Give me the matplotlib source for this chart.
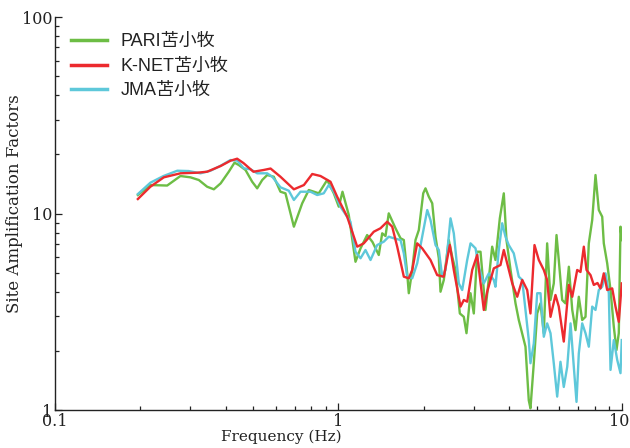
import matplotlib
matplotlib.use("Agg")
import matplotlib.pyplot as plt
import matplotlib.transforms as mtransforms
from matplotlib.ticker import LogLocator, NullFormatter, FixedLocator, FixedFormatter

# ---- data ----
pari_freq = [0.196, 0.217, 0.2487, 0.277, 0.3006, 0.3216, 0.344, 0.3633, 0.384, 0.4102,
             0.4297, 0.4450, 0.4699, 0.4961, 0.5166, 0.5382, 0.5604, 0.5912, 0.624, 0.650,
             0.696, 0.7447, 0.7855, 0.852, 0.912, 0.9625, 1.0024, 1.033, 1.087, 1.148,
             1.196, 1.262, 1.318, 1.387, 1.426, 1.465, 1.504, 1.589, 1.655, 1.700,
             1.747, 1.770, 1.820, 1.869, 1.920, 1.990, 2.027, 2.082, 2.141, 2.199,
             2.259, 2.290, 2.352, 2.449, 2.518, 2.586, 2.679, 2.767, 2.828, 2.922,
             3.001, 3.085, 3.169, 3.300, 3.484, 3.578, 3.707, 3.829, 3.913, 4.045,
             4.211, 4.325, 4.566, 4.690, 4.755, 4.885, 5.022, 5.158, 5.299, 5.445,
             5.595, 5.746, 5.875, 5.984, 6.152, 6.317, 6.494, 6.676, 6.855, 7.041,
             7.238, 7.435, 7.637, 7.851, 8.064, 8.283, 8.515, 8.626, 8.867, 9.110,
             9.357, 9.563, 9.743, 9.879, 9.98]
pari_amp = [12.42, 13.96, 13.88, 15.52, 15.28, 14.81, 13.69, 13.28, 14.24, 16.32,
            18.14, 17.65, 16.65, 14.51, 13.43, 14.81, 15.70, 15.39, 12.91, 12.67,
            8.57, 11.27, 13.17, 12.67, 14.81, 12.67, 10.83, 12.91, 9.83, 5.68,
            6.65, 7.77, 7.16, 6.15, 7.93, 7.68, 10.02, 8.41, 7.48, 7.33,
            4.96, 3.93, 5.16, 7.33, 8.24, 12.67, 13.43, 12.18, 11.27, 7.62,
            5.92, 4.00, 4.59, 7.33, 6.03, 5.16, 3.10, 2.98, 2.46, 3.93,
            3.10, 6.39, 6.39, 3.23, 6.78, 5.80, 9.45, 12.67, 7.33, 5.16,
            3.49, 2.87, 2.10, 1.12, 1.02, 1.73, 3.10, 3.49, 2.46, 7.05,
            3.63, 4.41, 7.77, 5.80, 3.63, 3.49, 5.36, 3.23, 2.55, 3.77,
            2.87, 2.98, 7.05, 9.27, 15.70, 10.42, 9.63, 7.05, 5.58, 4.08,
            2.65, 2.02, 2.46, 8.57, 7.33]

knet_freq = [0.196, 0.217, 0.242, 0.277, 0.317, 0.344, 0.384, 0.416, 0.439, 0.462,
             0.501, 0.544, 0.576, 0.624, 0.696, 0.755, 0.808, 0.864, 0.937, 0.989,
             1.073, 1.164, 1.228, 1.332, 1.406, 1.485, 1.547, 1.611, 1.700, 1.770,
             1.820, 1.895, 1.973, 2.111, 2.229, 2.352, 2.470, 2.551, 2.694, 2.767,
             2.844, 2.962, 3.085, 3.255, 3.346, 3.530, 3.727, 3.829, 4.101, 4.270,
             4.446, 4.630, 4.755, 4.913, 5.088, 5.299, 5.445, 5.595, 5.826, 5.984,
             6.232, 6.494, 6.676, 6.950, 7.139, 7.334, 7.496, 7.744, 7.953, 8.196,
             8.398, 8.626, 8.867, 9.235, 9.486, 9.743, 9.98]
knet_amp = [11.85, 13.69, 15.28, 16.02, 16.13, 16.32, 17.45, 18.57, 19.01, 18.07,
            16.32, 16.65, 16.94, 15.39, 13.28, 13.96, 15.89, 15.52, 14.51, 12.18,
            9.63, 6.78, 7.05, 8.08, 8.41, 9.08, 8.57, 6.78, 4.77, 4.68,
            5.16, 7.05, 6.65, 5.80, 4.86, 4.77, 6.91, 5.16, 3.36, 3.63,
            3.56, 5.16, 6.15, 3.23, 4.00, 5.26, 5.47, 6.52, 4.41, 3.77,
            4.59, 4.08, 3.10, 6.91, 5.80, 5.16, 4.59, 2.98, 3.85, 3.36,
            2.23, 4.33, 3.77, 5.16, 5.04, 6.78, 5.16, 4.86, 4.33, 4.43,
            4.16, 4.96, 4.08, 4.16, 3.36, 2.81, 4.41]

jma_freq = [0.196, 0.217, 0.2414, 0.270, 0.296, 0.326, 0.3535, 0.384, 0.416, 0.440,
            0.4634, 0.4894, 0.5166, 0.5604, 0.585, 0.624, 0.668, 0.696, 0.7345, 0.797,
            0.841, 0.887, 0.924, 0.9625, 1.016, 1.102, 1.148, 1.196, 1.245, 1.297,
            1.369, 1.445, 1.504, 1.567, 1.655, 1.700, 1.747, 1.820, 1.895, 1.973,
            2.056, 2.111, 2.199, 2.259, 2.322, 2.385, 2.484, 2.551, 2.657, 2.731,
            2.844, 2.922, 3.043, 3.126, 3.255, 3.390, 3.530, 3.578, 3.676, 3.779,
            3.882, 3.987, 4.152, 4.325, 4.446, 4.566, 4.690, 4.755, 4.885, 5.022,
            5.158, 5.299, 5.445, 5.595, 5.746, 5.907, 6.067, 6.232, 6.410, 6.584,
            6.761, 6.911, 7.041, 7.238, 7.435, 7.637, 7.851, 8.064, 8.283, 8.515,
            8.747, 8.985, 9.110, 9.357, 9.618, 9.879, 9.98]
jma_amp = [12.56, 14.35, 15.52, 16.51, 16.45, 16.02, 16.51, 17.51, 18.72, 18.57,
           16.98, 16.79, 16.02, 16.02, 15.34, 13.60, 13.06, 11.72, 12.91, 12.91,
           12.42, 12.67, 13.96, 12.91, 10.83, 9.08, 6.39, 5.92, 6.52, 5.80,
           6.91, 7.19, 7.62, 7.48, 7.33, 6.27, 4.77, 4.68, 5.58, 7.62,
           10.42, 9.27, 6.91, 6.52, 4.77, 5.16, 9.45, 7.93, 4.41, 4.08,
           5.80, 7.05, 6.65, 5.36, 4.41, 4.96, 4.59, 4.24, 6.52, 8.92,
           7.62, 6.91, 6.27, 4.77, 4.59, 3.23, 2.27, 1.73, 2.18, 3.93,
           3.93, 2.36, 2.76, 2.46, 1.73, 1.17, 1.76, 1.31, 1.66, 2.76,
           1.66, 1.10, 1.94, 2.76, 2.46, 2.10, 3.36, 3.23, 4.08, 4.24,
           4.96, 3.93, 1.60, 2.27, 1.80, 1.54, 2.27]

series_labels = ["PARI苫小牧", "K-NET苫小牧", "JMA苫小牧"]
x_ticks = [0.1, 1, 10]
x_ticklabels = ["0.1", "1", "10"]
y_ticks = [1, 10, 100]
y_ticklabels = ["1", "10", "100"]

colors = ["#6dbd45", "#ec2a2e", "#5ec8da"]

fig = plt.figure(figsize=(6.3, 4.48), dpi=100)
ax = fig.add_axes([0.0873, 0.0848, 0.9, 0.8772])

ax.plot(pari_freq, pari_amp, color=colors[0], lw=1.7, label=series_labels[0], zorder=2)
ax.plot(knet_freq, knet_amp, color=colors[1], lw=1.7, label=series_labels[1], zorder=3)
ax.plot(jma_freq, jma_amp, color=colors[2], lw=1.7, label=series_labels[2], zorder=2.5)

ax.set_xscale("log")
ax.set_yscale("log")
ax.set_xlim(0.1, 10)
ax.set_ylim(1, 100)

serif = "DejaVu Serif"
ax.xaxis.set_major_locator(FixedLocator(x_ticks))
ax.xaxis.set_major_formatter(FixedFormatter(x_ticklabels))
ax.yaxis.set_major_locator(FixedLocator(y_ticks))
ax.yaxis.set_major_formatter(FixedFormatter(y_ticklabels))
ax.xaxis.set_minor_locator(LogLocator(base=10, subs=range(2, 10)))
ax.yaxis.set_minor_locator(LogLocator(base=10, subs=range(2, 10)))
ax.xaxis.set_minor_formatter(NullFormatter())
ax.yaxis.set_minor_formatter(NullFormatter())

ax.tick_params(which="both", direction="in", top=False, right=False, width=0.9, colors="#222222")
ax.tick_params(which="major", length=5, labelsize=11.5, pad=2)
ax.tick_params(which="minor", length=3)
for lab in ax.get_xticklabels() + ax.get_yticklabels():
    lab.set_fontfamily(serif)
    lab.set_color("#222222")

# nudge the last x tick label slightly left so it stays inside the figure
last_lab = ax.get_xticklabels()[-1]
last_lab.set_transform(last_lab.get_transform() +
                       mtransforms.ScaledTranslation(-3 / 100, 0, fig.dpi_scale_trans))

for s in ["top", "right"]:
    ax.spines[s].set_visible(False)
for s in ["left", "bottom"]:
    ax.spines[s].set_linewidth(1.0)
    ax.spines[s].set_color("#222222")

ax.set_xlabel("Frequency (Hz)", fontfamily=serif, fontsize=11, color="#222222")
ax.xaxis.set_label_coords(0.40, -0.050)
ax.set_ylabel("Site Amplification Factors", fontfamily=serif, fontsize=12, color="#222222")
ax.yaxis.set_label_coords(-0.056, 0.525)

leg = ax.legend(loc="upper left", bbox_to_anchor=(0.0, 1.0), frameon=False,
                prop={"family": ["Liberation Sans", "Noto Sans CJK JP"], "size": 13},
                handlelength=2.0, handletextpad=0.75, labelspacing=0.42, borderaxespad=0.5)
for t in leg.get_texts():
    t.set_color("#222222")
for h in leg.get_lines():
    h.set_linewidth(2.5)

fig.savefig("out.png", dpi=100)
